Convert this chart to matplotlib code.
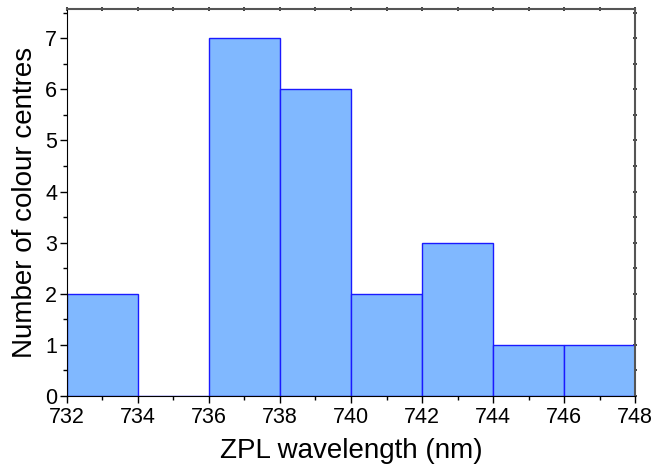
import matplotlib
matplotlib.use('Agg')
import matplotlib.pyplot as plt
from matplotlib.ticker import MultipleLocator, NullFormatter

# histogram of ZPL wavelengths
bin_edges = [732, 734, 736, 738, 740, 742, 744, 746]
bin_width = 2
counts = [2, 0, 7, 6, 2, 3, 1, 1]

plt.rcParams['font.family'] = ['Liberation Sans', 'DejaVu Sans']

fig = plt.figure(figsize=(6.54, 4.71), dpi=100)
ax = fig.add_axes([0.1024, 0.1592, 0.8686, 0.8217])

ax.bar(bin_edges, counts, width=bin_width, align='edge',
       color='#80b8ff', edgecolor='#1a1aff', linewidth=1.0)

ax.set_xlim(732, 748)
ax.set_ylim(0, 7.57)
ax.xaxis.set_major_locator(MultipleLocator(2))
ax.xaxis.set_minor_locator(MultipleLocator(1))
ax.yaxis.set_major_locator(MultipleLocator(1))
ax.yaxis.set_minor_locator(MultipleLocator(0.5))

ax.tick_params(which='both', direction='out', labelsize=15.5, width=1.0)
ax.tick_params(axis='x', pad=3)
ax.tick_params(axis='y', pad=2)
ax.tick_params(which='major', length=5)
ax.tick_params(which='minor', length=3)

for side in ['top', 'right']:
    ax.spines[side].set_color('#555555')
    ax.spines[side].set_linewidth(1.5)

# tiny ticks on top/right axes
top = ax.secondary_xaxis('top')
top.xaxis.set_major_locator(MultipleLocator(1))
top.xaxis.set_major_formatter(NullFormatter())
top.tick_params(direction='inout', length=3, width=1.2, color='#222222')
top.spines['top'].set_visible(False)
right = ax.secondary_yaxis('right')
right.yaxis.set_major_locator(MultipleLocator(0.5))
right.yaxis.set_major_formatter(NullFormatter())
right.tick_params(direction='inout', length=3, width=1.2, color='#222222')
right.spines['right'].set_visible(False)

ax.set_xlabel('ZPL wavelength (nm)', fontsize=20, labelpad=7)
ax.set_ylabel('Number of colour centres', fontsize=20, labelpad=5)

fig.savefig('out.png', dpi=100)
